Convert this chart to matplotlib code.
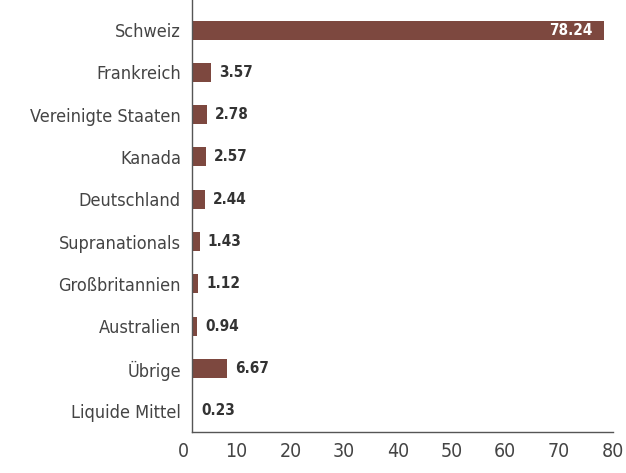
import matplotlib.pyplot as plt
from matplotlib.transforms import ScaledTranslation

plt.rcParams["font.family"] = ["DejaVu Sans"]
plt.rcParams["font.stretch"] = "condensed"

countries = ["Schweiz", "Frankreich", "Vereinigte Staaten", "Kanada", "Deutschland",
             "Supranationals", "Großbritannien", "Australien", "Übrige", "Liquide Mittel"]
values = [78.24, 3.57, 2.78, 2.57, 2.44, 1.43, 1.12, 0.94, 6.67, 0.23]

bar_color = "#7d483f"
text_color = "#444444"

fig = plt.figure(figsize=(6.26, 4.73), dpi=100)
ax = fig.add_axes([0.3067, 0.0867, 0.6725, 0.9133])

pos = list(range(len(countries)))[::-1]
ax.barh(pos, values, height=0.45, color=bar_color)

for y, v in zip(pos, values):
    if v > 40:
        ax.annotate(f"{v:.2f}", (v, y), xytext=(-8, 0), textcoords="offset points",
                    ha="right", va="center", color="white", fontsize=11, fontweight="bold")
    else:
        ax.annotate(f"{v:.2f}", (v, y), xytext=(6, 0), textcoords="offset points",
                    ha="left", va="center", color="#333333", fontsize=11, fontweight="bold")

ax.set_yticks(pos)
ax.set_yticklabels(countries, fontsize=13, color=text_color)
ax.set_xlim(0, 80)
ax.set_xticks(range(0, 81, 10))
ax.tick_params(axis="x", labelsize=14, colors=text_color, length=0, pad=7)
ax.tick_params(axis="y", length=0, pad=8)
ax.set_ylim(-0.5, 9.71)

# tick labels in the original sit slightly left of their data positions
for i, lbl in enumerate(ax.get_xticklabels()):
    dx = -(9 - 1.1 * i) / 100
    lbl.set_transform(lbl.get_transform() + ScaledTranslation(dx, 0, fig.dpi_scale_trans))

for s in ["top", "right"]:
    ax.spines[s].set_visible(False)
for s in ["left", "bottom"]:
    ax.spines[s].set_color("#555555")
    ax.spines[s].set_linewidth(1)

plt.savefig("out.png", dpi=100)
